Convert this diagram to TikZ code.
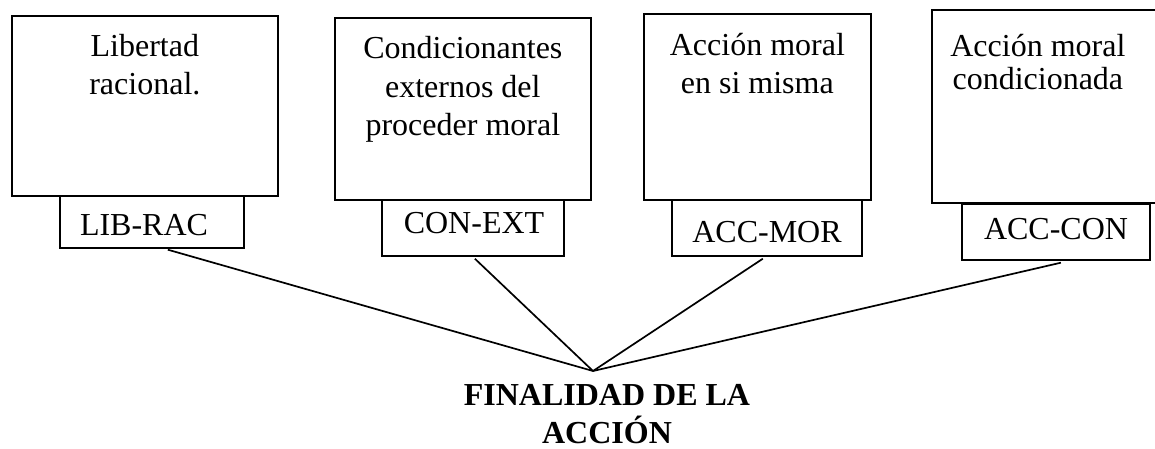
\documentclass[tikz,border=0pt]{standalone}
\usepackage{fontspec}
\setmainfont{Liberation Serif}
\usetikzlibrary{positioning}
\newcommand\bigfont{\fontsize{32}{38.5}\selectfont}
\tikzstyle{bigbox}=[draw,line width=1.7pt,anchor=north west,inner sep=0pt]
\tikzstyle{tagbox}=[draw,line width=1.7pt,anchor=north west,inner sep=0pt]
\tikzstyle{boxtext}=[anchor=base,align=center,inner sep=0pt,font=\bigfont]
\tikzstyle{link}=[line width=1.7pt]

\begin{document}
\begin{tikzpicture}[x=1pt,y=-1pt]
	\useasboundingbox (0,0) rectangle (1155,449);
	% upper boxes (text anchored on its last line)
	\node[bigbox,minimum width=266pt,minimum height=180pt] (lib) at (11,15)  {};
	\node[bigbox,minimum width=256pt,minimum height=182pt] (con) at (334,17) {};
	\node[bigbox,minimum width=227pt,minimum height=186pt] (mor) at (643,13) {};
	\node[bigbox,minimum width=240pt,minimum height=193pt] (acc) at (931,9)  {};
	\node[boxtext] (lib-txt) at ([yshift=-80pt]lib.north) {Libertad\\racional.};
	\node[boxtext] (con-txt) at ([yshift=-119pt]con.north) {Condicionantes\\externos del\\proceder moral};
	\node[boxtext] (mor-txt) at ([yshift=-81pt]mor.north) {Acción moral\\en si misma};
	\node[boxtext,font=\fontsize{32}{33}\selectfont] (acc-txt) at ([xshift=-14pt,yshift=-81pt]acc.north) {Acción moral\\condicionada};
	% tags
	\node[tagbox,minimum width=184pt,minimum height=52pt] (librac) at (59,195)  {};
	\node[tagbox,minimum width=182pt,minimum height=56pt] (conext) at (381,199) {};
	\node[tagbox,minimum width=190pt,minimum height=56pt] (accmor) at (671,199) {};
	\node[tagbox,minimum width=188pt,minimum height=56pt] (acccon) at (961,203) {};
	\node[boxtext] (librac-txt) at (144,235) {LIB-RAC};
	\node[boxtext] (conext-txt) at (474,233) {CON-EXT};
	\node[boxtext] (accmor-txt) at (767,242) {ACC-MOR};
	\node[boxtext] (acccon-txt) at (1056,239) {ACC-CON};
	% goal
	\coordinate (meet) at (593,371);
	\node[boxtext,font=\bfseries\fontsize{32}{38}\selectfont] (fin) at (607,443) {FINALIDAD DE LA\\ACCIÓN};
	\draw[link] ([xshift=16pt,yshift=-1pt]librac.south) -- (meet);
	\draw[link] ([xshift=2pt,yshift=-2pt]conext.south)  -- (meet);
	\draw[link] ([xshift=-4pt,yshift=-2pt]accmor.south) -- (meet);
	\draw[link] ([xshift=5pt,yshift=-2pt]acccon.south)  -- (meet);
\end{tikzpicture}
\end{document}
